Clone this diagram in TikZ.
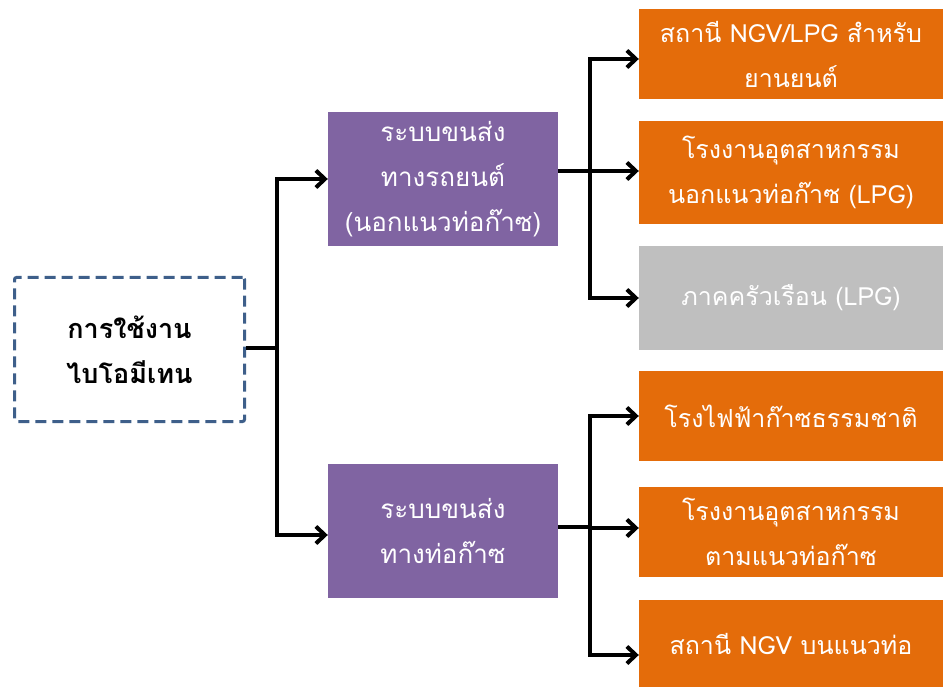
\documentclass[tikz,border=0pt]{standalone}
\usepackage{fontspec}
\setmainfont[Script=Thai]{Loma}
\usetikzlibrary{arrows.meta}
\definecolor{orangeC}{HTML}{E46C0A}
\definecolor{purpleC}{HTML}{8064A2}
\definecolor{grayC}{HTML}{BFBFBF}
\definecolor{dashC}{HTML}{3E5F8A}
\begin{document}
\begin{tikzpicture}[x=1pt,y=-1pt,
  txt/.style={font=\fontsize{25}{45}\selectfont, align=center, inner sep=0pt},
  obox/.style={txt, fill=orangeC, text=white, minimum width=304pt},
  gbox/.style={txt, fill=grayC, text=white, minimum width=304pt},
  pbox/.style={txt, fill=purpleC, text=white, minimum width=230pt, minimum height=134pt,
     font=\fontsize{26}{45}\selectfont},
  dbox/.style={txt, draw=dashC, line width=3pt, dash pattern=on 11pt off 6pt, rounded corners=2pt,
     minimum width=230pt, minimum height=144pt, font=\fontsize{27}{45}\selectfont\bfseries},
  conn/.style={line width=4pt, black},
  arr/.style={conn, -{Straight Barb[length=9pt,width=17pt]}}
]
\useasboundingbox (0,0) rectangle (943,687);
\node[dbox] (bio) at (129.5,349.5) {การใช้งาน\\ไบโอมีเทน};
\node[pbox] (p1) at (443,179) {ระบบขนส่ง\\ทางรถยนต์\\(นอกแนวท่อก๊าซ)};
\node[pbox] (p2) at (443,530.5) {ระบบขนส่ง\\ทางท่อก๊าซ};
\node[obox, minimum height=90pt] (o1) at (791,54) {สถานี NGV/LPG สำหรับ\\ยานยนต์};
\node[obox, minimum height=103pt] (o2) at (791,172.5) {โรงงานอุตสาหกรรม\\นอกแนวท่อก๊าซ (LPG)};
\node[gbox, minimum height=104pt] (o3) at (791,298) {ภาคครัวเรือน (LPG)};
\node[obox, minimum height=90pt] (o4) at (791,416) {โรงไฟฟ้าก๊าซธรรมชาติ};
\node[obox, minimum height=90pt] (o5) at (791,532) {โรงงานอุตสาหกรรม\\ตามแนวท่อก๊าซ};
\node[obox, minimum height=87pt] (o6) at (791,643.5) {สถานี NGV บนแนวท่อ};
\coordinate (j0) at (277,348);
\coordinate (j1) at (590,171);
\coordinate (j2) at (590,527);
\draw[conn] (bio.east |- j0) -- (j0);
\draw[arr] (j0) |- (p1.west);
\draw[arr] (j0) |- ([yshift=-4.5pt]p2.west);
\draw[conn] ([yshift=8pt]p1.east) -- (j1);
\draw[arr] (j1) |- ([yshift=-5pt]o1.west);
\draw[arr] (j1) -- (o2.west |- j1);
\draw[arr] (j1) |- (o3.west);
\draw[conn] ([yshift=3.5pt]p2.east) -- (j2);
\draw[arr] (j2) |- (o4.west);
\draw[arr] (j2) |- ([yshift=4pt]o5.west);
\draw[arr] (j2) |- ([yshift=-11.5pt]o6.west);
\end{tikzpicture}
\end{document}
